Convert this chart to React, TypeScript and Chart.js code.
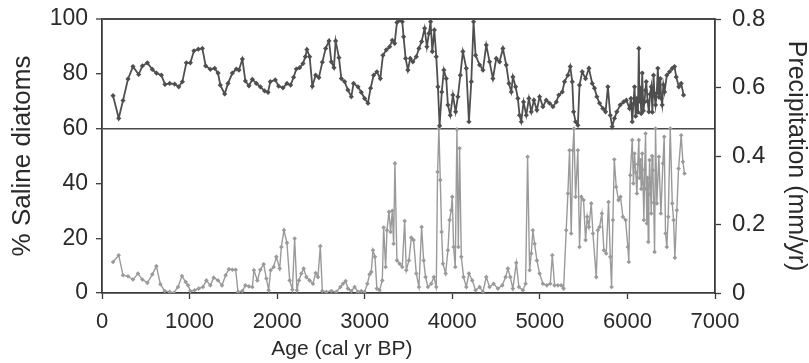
import React, { useEffect, useRef } from "react";
import { Chart, registerables } from "chart.js";

Chart.register(...registerables);

// Age axis ticks (cal yr BP)
const ageTicks = [0, 1000, 2000, 3000, 4000, 5000, 6000, 7000];
const salineTicks = [0, 20, 40, 60, 80, 100];
const precipTicks = [0, 0.2, 0.4, 0.6, 0.8];

// Precipitation (mm/yr) – dark series, right axis
const precipAge = [
  126, 191, 240, 297, 354, 419, 461, 518, 575, 621, 678, 719, 773, 830, 876, 918, 963, 1009, 1050, 1100,
  1146, 1184, 1237, 1287, 1325, 1351, 1401, 1439, 1489, 1534, 1564, 1603, 1637, 1678, 1717, 1763, 1808, 1857, 1896, 1922,
  1979, 2017, 2067, 2112, 2154, 2188, 2219, 2257, 2295, 2322, 2340, 2371, 2402, 2440, 2477, 2516, 2554, 2592, 2619, 2649,
  2668, 2706, 2733, 2771, 2808, 2847, 2873, 2923, 2961, 2999, 3037, 3067, 3102, 3139, 3178, 3208, 3247, 3285, 3315, 3342,
  3368, 3399, 3429, 3444, 3467, 3493, 3520, 3550, 3589, 3619, 3650, 3684, 3710, 3733, 3752, 3772, 3795, 3817, 3836, 3855,
  3880, 3904, 3931, 3950, 3977, 4007, 4038, 4064, 4092, 4121, 4160, 4190, 4217, 4243, 4266, 4312, 4350, 4388, 4426, 4464,
  4502, 4540, 4578, 4616, 4647, 4674, 4692, 4723, 4749, 4768, 4788, 4814, 4845, 4875, 4902, 4932, 4966, 4997, 5035, 5073,
  5111, 5149, 5188, 5217, 5256, 5282, 5320, 5347, 5370, 5385, 5408, 5434, 5453, 5484, 5522, 5560, 5598, 5624, 5651, 5682,
  5719, 5750, 5777, 5804, 5826, 5852, 5879, 5918, 5956, 5987, 6024, 6040, 6055, 6068, 6081, 6094, 6108, 6120, 6130, 6138,
  6146, 6158, 6169, 6182, 6195, 6205, 6215, 6230, 6245, 6258, 6272, 6285, 6298, 6310, 6321, 6335, 6347, 6360, 6375, 6386,
  6397, 6410, 6424, 6450, 6481, 6512, 6538, 6557, 6587, 6614, 6641,
];
const precipValue = [
  0.576, 0.51, 0.562, 0.625, 0.661, 0.638, 0.663, 0.672, 0.653, 0.642, 0.636, 0.609, 0.612, 0.61, 0.602, 0.617, 0.672, 0.672, 0.707, 0.712,
  0.714, 0.663, 0.653, 0.656, 0.642, 0.607, 0.581, 0.612, 0.642, 0.654, 0.651, 0.683, 0.619, 0.605, 0.624, 0.612, 0.602, 0.59, 0.586, 0.617,
  0.622, 0.604, 0.599, 0.612, 0.607, 0.63, 0.654, 0.658, 0.67, 0.69, 0.711, 0.69, 0.604, 0.636, 0.629, 0.674, 0.714, 0.736, 0.675, 0.658,
  0.736, 0.687, 0.626, 0.617, 0.593, 0.573, 0.612, 0.602, 0.586, 0.568, 0.554, 0.598, 0.636, 0.646, 0.626, 0.694, 0.71, 0.719, 0.738, 0.729,
  0.79, 0.797, 0.792, 0.748, 0.685, 0.651, 0.685, 0.675, 0.69, 0.714, 0.734, 0.773, 0.719, 0.758, 0.792, 0.705, 0.768, 0.69, 0.602, 0.488,
  0.587, 0.651, 0.626, 0.549, 0.519, 0.578, 0.529, 0.573, 0.636, 0.705, 0.656, 0.5, 0.617, 0.792, 0.694, 0.666, 0.651, 0.724, 0.675, 0.626,
  0.685, 0.675, 0.714, 0.666, 0.612, 0.587, 0.631, 0.602, 0.568, 0.519, 0.5, 0.558, 0.519, 0.568, 0.529, 0.563, 0.534, 0.573, 0.544, 0.563,
  0.554, 0.544, 0.558, 0.578, 0.587, 0.617, 0.636, 0.661, 0.617, 0.529, 0.5, 0.49, 0.607, 0.646, 0.626, 0.656, 0.612, 0.598, 0.573, 0.554,
  0.539, 0.529, 0.602, 0.519, 0.486, 0.51, 0.529, 0.549, 0.558, 0.563, 0.539, 0.568, 0.5, 0.552, 0.602, 0.516, 0.568, 0.528, 0.714, 0.56,
  0.598, 0.524, 0.642, 0.532, 0.558, 0.592, 0.617, 0.56, 0.529, 0.58, 0.602, 0.528, 0.636, 0.576, 0.549, 0.584, 0.656, 0.572, 0.626, 0.568,
  0.549, 0.608, 0.587, 0.636, 0.646, 0.656, 0.661, 0.631, 0.602, 0.612, 0.578,
];

// % Saline diatoms – light series, left axis
const salineAge = [
  126, 191, 240, 297, 354, 411, 461, 518, 575, 621, 667, 716, 773, 818, 868, 913, 956, 982, 1009, 1058,
  1104, 1153, 1192, 1237, 1275, 1325, 1370, 1412, 1450, 1489, 1526, 1553, 1603, 1637, 1678, 1717, 1735, 1774, 1808, 1846,
  1877, 1903, 1926, 1960, 1991, 2029, 2048, 2078, 2112, 2143, 2174, 2200, 2226, 2249, 2276, 2303, 2334, 2371, 2409, 2440,
  2466, 2493, 2516, 2562, 2619, 2676, 2722, 2752, 2782, 2808, 2847, 2885, 2923, 2961, 2999, 3030, 3056, 3075, 3094, 3117,
  3139, 3170, 3201, 3216, 3239, 3254, 3277, 3296, 3315, 3330, 3345, 3368, 3399, 3429, 3456, 3475, 3505, 3532, 3558, 3589,
  3619, 3650, 3673, 3695, 3722, 3760, 3790, 3817, 3832, 3847, 3863, 3878, 3893, 3924, 3950, 3969, 3988, 4000, 4015, 4034,
  4053, 4069, 4083, 4103, 4129, 4160, 4190, 4228, 4266, 4312, 4350, 4388, 4426, 4472, 4521, 4571, 4609, 4635, 4662, 4692,
  4731, 4761, 4806, 4837, 4860, 4883, 4902, 4920, 4940, 4966, 4997, 5035, 5080, 5119, 5142, 5168, 5206, 5244, 5271, 5301,
  5320, 5339, 5358, 5377, 5389, 5408, 5434, 5453, 5473, 5499, 5522, 5541, 5560, 5587, 5606, 5644, 5662, 5682, 5708, 5731,
  5758, 5784, 5804, 5819, 5834, 5850, 5872, 5898, 5921, 5948, 5979, 6005, 6016, 6032, 6055, 6068, 6081, 6095, 6108, 6118,
  6130, 6138, 6146, 6158, 6169, 6178, 6188, 6197, 6207, 6215, 6222, 6230, 6238, 6245, 6253, 6262, 6272, 6281, 6291, 6300,
  6310, 6321, 6336, 6359, 6382, 6405, 6420, 6435, 6450, 6466, 6489, 6512, 6527, 6542, 6564, 6584, 6614, 6633, 6652,
];
const salineValue = [
  11.3, 13.8, 6.5, 6.1, 4.9, 7.1, 4.9, 3.7, 6.8, 9.8, 3.2, 0.7, 0.4, 0, 2.2, 6.2, 4.0, 2.8, 0.7, 1.0,
  1.6, 2.2, 4.6, 2.8, 5.6, 4.6, 2.8, 6.5, 8.7, 8.5, 8.5, 0.4, 0.7, 2.8, 2.4, 2.2, 8.3, 4.6, 8.5, 10.5,
  5.3, 1.0, 8.3, 9.5, 13.2, 8.9, 16.8, 22.9, 18.3, 4.6, 1.2, 19.9, 1.0, 4.6, 7.1, 8.9, 5.8, 4.6, 3.4, 7.3,
  5.8, 17.1, 0.7, 0.4, 0.7, 0.4, 2.2, 3.4, 4.4, 1.6, 0.7, 2.2, 0.4, 0.7, 0.4, 3.4, 6.8, 7.7, 15.6, 13.2,
  1.6, 1.0, 4.6, 23.9, 9.5, 22.9, 29.6, 22.3, 30.0, 18.0, 47.3, 11.9, 10.7, 9.5, 26.3, 8.3, 11.9, 20.2, 19.3, 7.1,
  2.2, 24.1, 11.9, 5.8, 2.2, 3.4, 5.8, 2.2, 44.2, 60, 41.2, 22.3, 10.7, 7.1, 15.6, 26.6, 30.2, 35.1, 16.8, 9.5,
  59.7, 16.8, 52.8, 13.2, 5.8, 2.2, 7.1, 4.6, 1.0, 2.2, 0.4, 5.8, 2.2, 3.4, 1.6, 2.8, 5.8, 8.9, 5.8, 1.6,
  11.0, 2.2, 1.0, 3.4, 49.7, 8.3, 14.4, 22.9, 18.0, 11.9, 7.1, 3.4, 2.8, 3.4, 13.8, 2.8, 2.8, 2.8, 1.6, 22.9,
  36.3, 52.1, 21.7, 52.1, 60, 35.1, 52.1, 16.8, 35.1, 33.9, 19.3, 27.8, 24.1, 32.7, 21.7, 5.8, 22.9, 24.1, 29.0, 15.6,
  14.4, 33.2, 13.2, 2.2, 26.6, 48.7, 38.7, 33.9, 35.1, 27.8, 26.6, 16.8, 11.3, 43.0, 55.8, 40, 50.9, 44, 36.3, 47,
  55.8, 42, 48.5, 38, 50.9, 40, 26.6, 45, 58.2, 38, 25.4, 42, 18.6, 36, 48.5, 40, 29.0, 50, 44.8, 33,
  15.0, 60, 32.7, 49.7, 29.0, 47.3, 57.0, 21.7, 16.8, 27.8, 60, 32.7, 26.6, 12.9, 30.2, 45.4, 57.6, 47.9, 43.6,
];

const xTitle = "Age (cal yr BP)";
const leftTitle = "% Saline diatoms";
const rightTitle = "Precipitation (mm/yr)";

const FONT = '"Liberation Sans", Arial, Helvetica, sans-serif';
const TEXT = "#2a2a2a";
const AXIS = "#3a3a3a";

// Draws the x-axis title where the original figure placed it (left of centre)
const xTitlePlugin = {
  id: "xTitle",
  afterDraw(chart: any) {
    const ctx = chart.ctx;
    const xs = chart.scales.x;
    ctx.save();
    ctx.font = `21px ${FONT}`;
    ctx.fillStyle = TEXT;
    ctx.textAlign = "center";
    ctx.textBaseline = "middle";
    ctx.fillText(xTitle, xs.getPixelForValue(2740), 349);
    ctx.restore();
  },
};

const fixVertical = (w: number) => (s: any) => {
  s.width = w;
  s.paddingTop = 0;
  s.paddingBottom = 0;
};

export default function App() {
  const ref = useRef<HTMLCanvasElement>(null);

  useEffect(() => {
    if (!ref.current) return;
    const chart = new Chart(ref.current, {
      type: "line",
      data: {
        datasets: [
          {
            label: rightTitle,
            data: precipAge.map((x, i) => ({ x, y: precipValue[i] })),
            yAxisID: "y1",
            borderColor: "#4f4f4f",
            backgroundColor: "#4f4f4f",
            borderWidth: 1.8,
            pointRadius: 2.6,
            pointStyle: "rectRot",
            pointBorderWidth: 0,
            tension: 0,
          },
          {
            label: leftTitle,
            data: salineAge.map((x, i) => ({ x, y: salineValue[i] })),
            yAxisID: "y",
            borderColor: "#9a9a9a",
            backgroundColor: "#9a9a9a",
            borderWidth: 1.4,
            pointRadius: 2.3,
            pointStyle: "rectRot",
            pointBorderWidth: 0,
            tension: 0,
          },
        ],
      },
      options: {
        responsive: false,
        animation: false,
        layout: { padding: { top: 19, left: 0, right: 0, bottom: 0 } },
        plugins: { legend: { display: false }, tooltip: { enabled: false } },
        scales: {
          x: {
            type: "linear",
            min: 0,
            max: 7000,
            afterBuildTicks: (s: any) => {
              s.ticks = ageTicks.map((v) => ({ value: v }));
            },
            afterFit: (s: any) => {
              s.height = 70;
              s.paddingLeft = 0;
              s.paddingRight = 0;
            },
            grid: { drawOnChartArea: false, tickLength: 6, tickColor: AXIS, tickWidth: 1.3 },
            border: { display: true, color: AXIS, width: 1.8 },
            ticks: {
              color: TEXT,
              font: { family: FONT, size: 22 },
              padding: 10,
              maxRotation: 0,
              callback: (v: any) => String(v),
            },
            title: { display: false },
          },
          y: {
            type: "linear",
            position: "left",
            min: 0,
            max: 100,
            afterBuildTicks: (s: any) => {
              s.ticks = salineTicks.map((v) => ({ value: v }));
            },
            afterFit: fixVertical(102),
            grid: {
              drawOnChartArea: true,
              tickLength: 6,
              tickColor: AXIS,
              tickWidth: 1.3,
              color: (ctx: any) =>
                ctx.tick && (ctx.tick.value === 60 || ctx.tick.value === 100) ? "#4a4a4a" : "rgba(0,0,0,0)",
              lineWidth: (ctx: any) => (ctx.tick && ctx.tick.value === 100 ? 2 : 1.4),
            },
            border: { display: true, color: AXIS, width: 1.8 },
            ticks: { color: TEXT, font: { family: FONT, size: 23 }, padding: 8 },
            title: {
              display: true,
              text: leftTitle,
              color: TEXT,
              font: { family: FONT, size: 26, lineHeight: 1.05 },
              padding: { top: 9, bottom: 0 },
            },
          },
          y1: {
            type: "linear",
            position: "right",
            min: 0,
            max: 0.8,
            afterBuildTicks: (s: any) => {
              s.ticks = precipTicks.map((v) => ({ value: v }));
            },
            afterFit: fixVertical(94),
            grid: { drawOnChartArea: false, tickLength: 6, tickColor: AXIS, tickWidth: 1.3 },
            border: { display: true, color: AXIS, width: 1.8 },
            ticks: {
              color: TEXT,
              font: { family: FONT, size: 24 },
              padding: 11,
              callback: (v: any) => String(Number(Number(v).toFixed(1))),
            },
            title: {
              display: true,
              text: rightTitle,
              color: TEXT,
              font: { family: FONT, size: 25, lineHeight: 1.0 },
              padding: { top: 1, bottom: 0 },
            },
          },
        },
      },
      plugins: [xTitlePlugin],
    } as any);
    return () => chart.destroy();
  }, []);

  return (
    <canvas
      ref={ref}
      width={809}
      height={363}
      style={{ position: "absolute", left: 0, top: 0, width: 809, height: 363, background: "#fff" }}
    />
  );
}
